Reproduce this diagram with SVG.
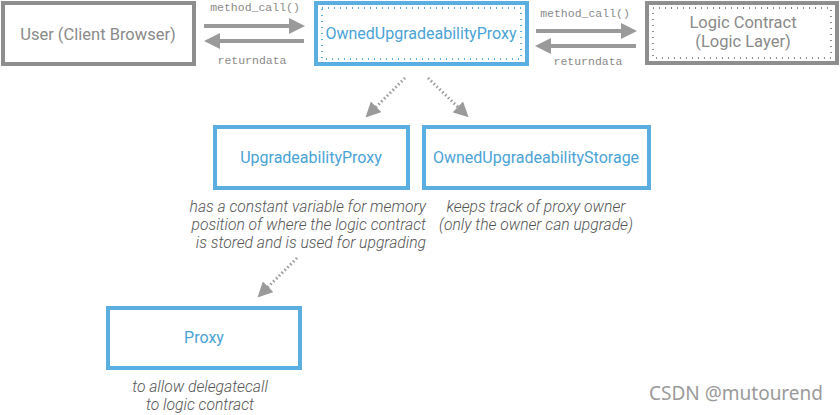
<svg xmlns="http://www.w3.org/2000/svg" width="840" height="415" viewBox="0 0 840 415">
<defs>
<style>
.gbox{fill:#fff;stroke:#8e8e8e;stroke-width:4}
.bbox{fill:#fff;stroke:#5aafe0;stroke-width:4}
.gdot{fill:none;stroke:#8e8e8e;stroke-width:2;stroke-dasharray:1 5}
.bdot{fill:none;stroke:#5aafe0;stroke-width:2;stroke-dasharray:1 5}
.lbl{font-family:Roboto,"Liberation Sans",sans-serif;font-size:16px;text-anchor:middle}
.glbl{fill:#8a8a8a;font-size:16.5px}
.blbl{fill:#4aa3d6}
.code{font-family:"Liberation Mono","DejaVu Sans Mono",monospace;font-size:11.5px;fill:#8a8a8a;text-anchor:middle}
.note{font-family:Roboto,"Liberation Sans",sans-serif;font-style:italic;font-weight:300;font-size:15.7px;fill:#555}
.arr{stroke:#9a9a9a;stroke-width:4;fill:none}
.darr{stroke:#9a9a9a;stroke-width:3;fill:none;stroke-dasharray:1.5 2.5}
.wm{font-family:"Noto Sans","Open Sans",sans-serif;font-size:19px;fill:#9a9a9a}
</style>
<marker id="ah" markerWidth="4" markerHeight="4" refX="1" refY="2" orient="auto" markerUnits="strokeWidth">
<path d="M0,0 L4,2 L0,4 z" fill="#9a9a9a"/>
</marker>
<marker id="dh" markerWidth="5" markerHeight="5" refX="1" refY="2.5" orient="auto" markerUnits="strokeWidth">
<path d="M0,0 L5,2.5 L0,5 z" fill="#9a9a9a"/>
</marker>
</defs>
<rect width="840" height="415" fill="#fff"/>
<g id="connectors">
<line class="arr" x1="204" y1="26" x2="293" y2="26" marker-end="url(#ah)"/>
<line class="arr" x1="304" y1="41" x2="216" y2="41" marker-end="url(#ah)"/>
<line class="arr" x1="536" y1="31" x2="625" y2="31" marker-end="url(#ah)"/>
<line class="arr" x1="636" y1="46" x2="547" y2="46" marker-end="url(#ah)"/>
<line class="darr" x1="405" y1="78" x2="374" y2="109" marker-end="url(#dh)"/>
<line class="darr" x1="428" y1="78" x2="460" y2="109" marker-end="url(#dh)"/>
<line class="darr" x1="297" y1="258" x2="266" y2="289" marker-end="url(#dh)"/>
<text class="code" x="255" y="11">method_call()</text>
<text class="code" x="252" y="64">returndata</text>
<text class="code" x="585" y="17">method_call()</text>
<text class="code" x="588" y="65">returndata</text>
</g>
<g id="user">
<rect class="gbox" x="3" y="3" width="191" height="61"/>
<text class="lbl glbl" x="98" y="40">User (Client Browser)</text>
</g>
<g id="owned-proxy">
<rect class="bbox" x="316" y="3" width="211" height="61"/>
<rect class="bdot" x="322" y="8" width="199" height="51"/>
<text class="lbl blbl" x="421" y="39">OwnedUpgradeabilityProxy</text>
</g>
<g id="logic">
<rect class="gbox" x="647" y="3" width="190" height="60"/>
<rect class="gdot" x="653" y="8" width="178" height="50"/>
<text class="lbl glbl" x="743" y="28">Logic Contract</text>
<text class="lbl glbl" x="743" y="47">(Logic Layer)</text>
</g>
<g id="upgradeability-proxy">
<rect class="bbox" x="215" y="127" width="193" height="61"/>
<text class="lbl blbl" x="311" y="163">UpgradeabilityProxy</text>
<text class="note" text-anchor="end" x="426" y="212">has a constant variable for memory</text>
<text class="note" text-anchor="end" x="426" y="230">position of where the logic contract</text>
<text class="note" text-anchor="end" x="426" y="248">is stored and is used for upgrading</text>
</g>
<g id="owned-storage">
<rect class="bbox" x="424" y="127" width="225" height="61"/>
<text class="lbl blbl" x="536" y="163">OwnedUpgradeabilityStorage</text>
<text class="note" text-anchor="middle" x="536" y="212">keeps track of proxy owner</text>
<text class="note" text-anchor="middle" x="536" y="230">(only the owner can upgrade)</text>
</g>
<g id="proxy">
<rect class="bbox" x="108" y="308" width="192" height="60"/>
<text class="lbl blbl" x="204" y="343">Proxy</text>
<text class="note" text-anchor="middle" x="200" y="392">to allow delegatecall</text>
<text class="note" text-anchor="middle" x="200" y="410">to logic contract</text>
</g>
<text class="wm" x="649" y="400">CSDN @mutourend</text>
</svg>
